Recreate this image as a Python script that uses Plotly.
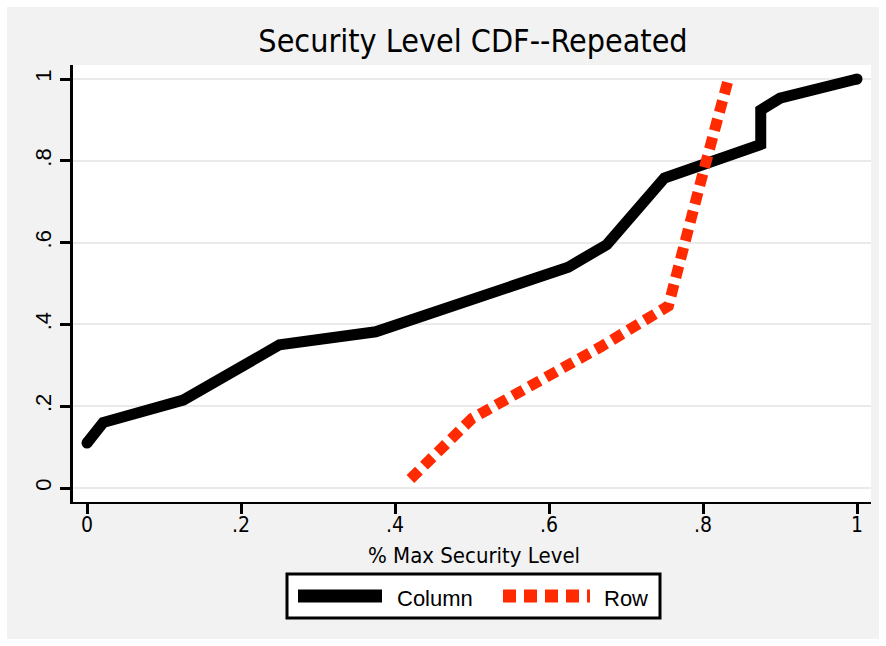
import plotly.graph_objects as go

# ---- data ----
col_x = [0.0, 0.021, 0.125, 0.25, 0.375, 0.625, 0.675, 0.75, 0.875, 0.875, 0.9, 1.0]
col_y = [0.11, 0.16, 0.215, 0.35, 0.382, 0.54, 0.595, 0.758, 0.84, 0.924, 0.953, 1.0]
row_x = [0.42, 0.5, 0.667, 0.755, 0.8, 0.833]
row_y = [0.022, 0.17, 0.345, 0.445, 0.77, 1.0]

tick_vals = [0, 0.2, 0.4, 0.6, 0.8, 1]
tick_text = ["0", ".2", ".4", ".6", ".8", "1"]

title_text = "Security Level CDF--Repeated"
xtitle_text = "% Max Security Level"
series_names = ["Column", "Row"]

BLACK = "#000000"
RED = "#ff2a00"
GRAY_BG = "#f2f2f2"
GRID = "#eaeaea"
NARROW = "Liberation Sans Narrow, DejaVu Sans Condensed, Arial Narrow, sans-serif"
REG = "Liberation Sans, Arial, sans-serif"

W, H = 886, 646
L, R, T, B = 73, 871, 65, 502  # plot area pixel box


def px(xp):
    return (xp - L) / (R - L)


def py(yp):
    return (B - yp) / (B - T)


fig = go.Figure()
fig.add_trace(go.Scatter(x=col_x, y=col_y, mode="lines", name=series_names[0],
                         line=dict(color=BLACK, width=11), showlegend=False))
fig.add_trace(go.Scatter(x=[col_x[0], col_x[-1]], y=[col_y[0], col_y[-1]], mode="markers",
                         marker=dict(color=BLACK, size=11), showlegend=False, hoverinfo="skip"))
fig.add_trace(go.Scatter(x=row_x, y=row_y, mode="lines", name=series_names[1],
                         line=dict(color=RED, width=11, dash="12px,7px"), showlegend=False))

shapes = [
    # outer gray graph region with thin white border
    dict(type="rect", xref="paper", yref="paper", x0=px(7), x1=px(879), y0=py(639), y1=py(7),
         fillcolor=GRAY_BG, line=dict(width=0), layer="below"),
    dict(type="rect", xref="paper", yref="paper", x0=0, x1=1, y0=0, y1=1,
         fillcolor="white", line=dict(width=0), layer="below"),
    # legend box
    dict(type="rect", xref="paper", yref="paper", x0=px(287), x1=px(660), y0=py(618), y1=py(574),
         fillcolor="white", line=dict(color=BLACK, width=3)),
    dict(type="line", xref="paper", yref="paper", x0=px(298), x1=px(382), y0=py(596), y1=py(596),
         line=dict(color=BLACK, width=13)),
    dict(type="line", xref="paper", yref="paper", x0=px(503), x1=px(590), y0=py(596), y1=py(596),
         line=dict(color=RED, width=13, dash="13px,8px")),
]

annotations = [
    dict(text=xtitle_text, xref="paper", yref="paper", x=px(474), y=py(555),
         xanchor="center", yanchor="middle", showarrow=False,
         font=dict(family=NARROW, size=22, color=BLACK)),
    dict(text=series_names[0], xref="paper", yref="paper", x=px(395), y=py(598),
         xanchor="left", yanchor="middle", showarrow=False,
         font=dict(family=REG, size=22, color=BLACK)),
    dict(text=series_names[1], xref="paper", yref="paper", x=px(602), y=py(598),
         xanchor="left", yanchor="middle", showarrow=False,
         font=dict(family=REG, size=22, color=BLACK)),
]

fig.update_layout(
    width=W, height=H,
    margin=dict(l=L, r=W - R, t=T, b=H - B, pad=0),
    paper_bgcolor="white",
    plot_bgcolor="white",
    title=dict(text=title_text, x=px(473), xref="paper", xanchor="center",
               y=1 - 41 / H, yref="container", yanchor="middle",
               font=dict(family=NARROW, size=32, color=BLACK)),
    shapes=shapes,
    annotations=annotations,
    showlegend=False,
    xaxis=dict(range=[(L - 87) / 770, (R - 87) / 770], tickvals=tick_vals, ticktext=tick_text,
               showgrid=False, zeroline=False, showline=True, linecolor=BLACK, linewidth=2,
               ticks="outside", ticklen=10, tickwidth=3, tickcolor=BLACK,
               ticklabelstandoff=-7,
               tickfont=dict(family=NARROW, size=21, color=BLACK)),
    yaxis=dict(range=[(488 - B) / 409, (488 - T) / 409], tickvals=tick_vals, ticktext=tick_text,
               showgrid=True, gridcolor=GRID, gridwidth=2, zeroline=False,
               showline=True, linecolor=BLACK, linewidth=3,
               ticks="outside", ticklen=10, tickwidth=3, tickcolor=BLACK, tickangle=-90,
               tickfont=dict(family=REG, size=22, color=BLACK)),
)

fig.write_html("out.html")
